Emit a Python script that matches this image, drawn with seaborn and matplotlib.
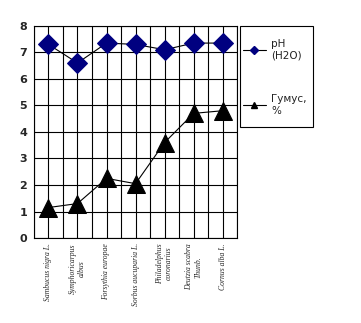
import matplotlib
matplotlib.use("Agg")
import matplotlib.pyplot as plt
import seaborn as sns
import pandas as pd
import numpy as np
from matplotlib.lines import Line2D
from matplotlib.patches import Rectangle

categories = ["Sambucus nigra L.", "Symphoricarpus\nalbus", "Forsythia europae",
              "Sorbus aucuparia L.", "Philadelphus\ncoronarius", "Deutzia scabra\nThunb.",
              "Cornus alba L."]
ph_values = [7.3, 6.6, 7.35, 7.3, 7.1, 7.35, 7.35]
humus_values = [1.15, 1.3, 2.25, 2.05, 3.6, 4.7, 4.8]
yticks = [0, 1, 2, 3, 4, 5, 6, 7, 8]

sns.set_style("white")
plt.rcParams['font.family'] = ['DejaVu Sans']

fig = plt.figure(figsize=(3.61, 3.23), dpi=100)
ax = fig.add_axes([0.094, 0.263, 0.563, 0.657])

x = np.arange(len(categories))
df = pd.DataFrame({"x": x, "ph": ph_values, "humus": humus_values})

for b in np.arange(-0.5, len(categories) + 0.5, 1.0):
    ax.axvline(b, color="black", lw=0.8, zorder=0)
for c in x:
    ax.axvline(c, color="black", lw=0.8, zorder=0)
for t in yticks:
    ax.axhline(t, color="black", lw=0.8, zorder=0)

sns.lineplot(data=df, x="x", y="ph", ax=ax, color="black", lw=0.8,
             marker="D", markersize=10, markerfacecolor="#000080",
             markeredgecolor="#000080", legend=False)
sns.lineplot(data=df, x="x", y="humus", ax=ax, color="black", lw=0.8,
             marker="^", markersize=13, markerfacecolor="black",
             markeredgecolor="black", legend=False)

ax.set_xlim(-0.5, len(categories) - 0.5)
ax.set_ylim(0, 8)
ax.set_yticks(yticks)
ax.set_yticklabels([str(t) for t in yticks], fontsize=8, fontweight="bold")
ax.set_xticks(np.arange(-0.5, len(categories) + 0.5, 1.0))
ax.set_xticklabels([])
ax.tick_params(axis="both", direction="out", length=3, width=0.8, color="black", pad=2)
ax.set_xlabel("")
ax.set_ylabel("")
for s in ax.spines.values():
    s.set_color("black")
    s.set_linewidth(0.8)

for xi, lab in zip(x, categories):
    ax.text(xi, -0.2, lab, rotation=90, ha="center", va="top",
            multialignment="center", fontsize=5.5, style="italic",
            family="Liberation Serif", clip_on=False)

# legend frame
W, H = 361, 323
fig.patches.append(Rectangle((240 / W, 1 - 127 / H), 73 / W, 101 / H,
                             transform=fig.transFigure, fill=False,
                             edgecolor="black", lw=0.8))
h1 = Line2D([], [], color="black", lw=0.8, marker="D", markersize=4,
            markerfacecolor="#000080", markeredgecolor="#000080")
h2 = Line2D([], [], color="black", lw=0.8, marker="^", markersize=5,
            markerfacecolor="black", markeredgecolor="black")
leg = fig.legend([h1, h2], ["pH\n(H2O)", "Гумус,\n%"],
                 loc="upper left", bbox_to_anchor=(243 / W, 1 - 39 / H),
                 frameon=False, fontsize=7.5, handlelength=2.2,
                 labelspacing=3.2, borderpad=0, handletextpad=0.5,
                 borderaxespad=0)
for t in leg.get_texts():
    t.set_color("#222222")

fig.savefig("out.png", dpi=100)
